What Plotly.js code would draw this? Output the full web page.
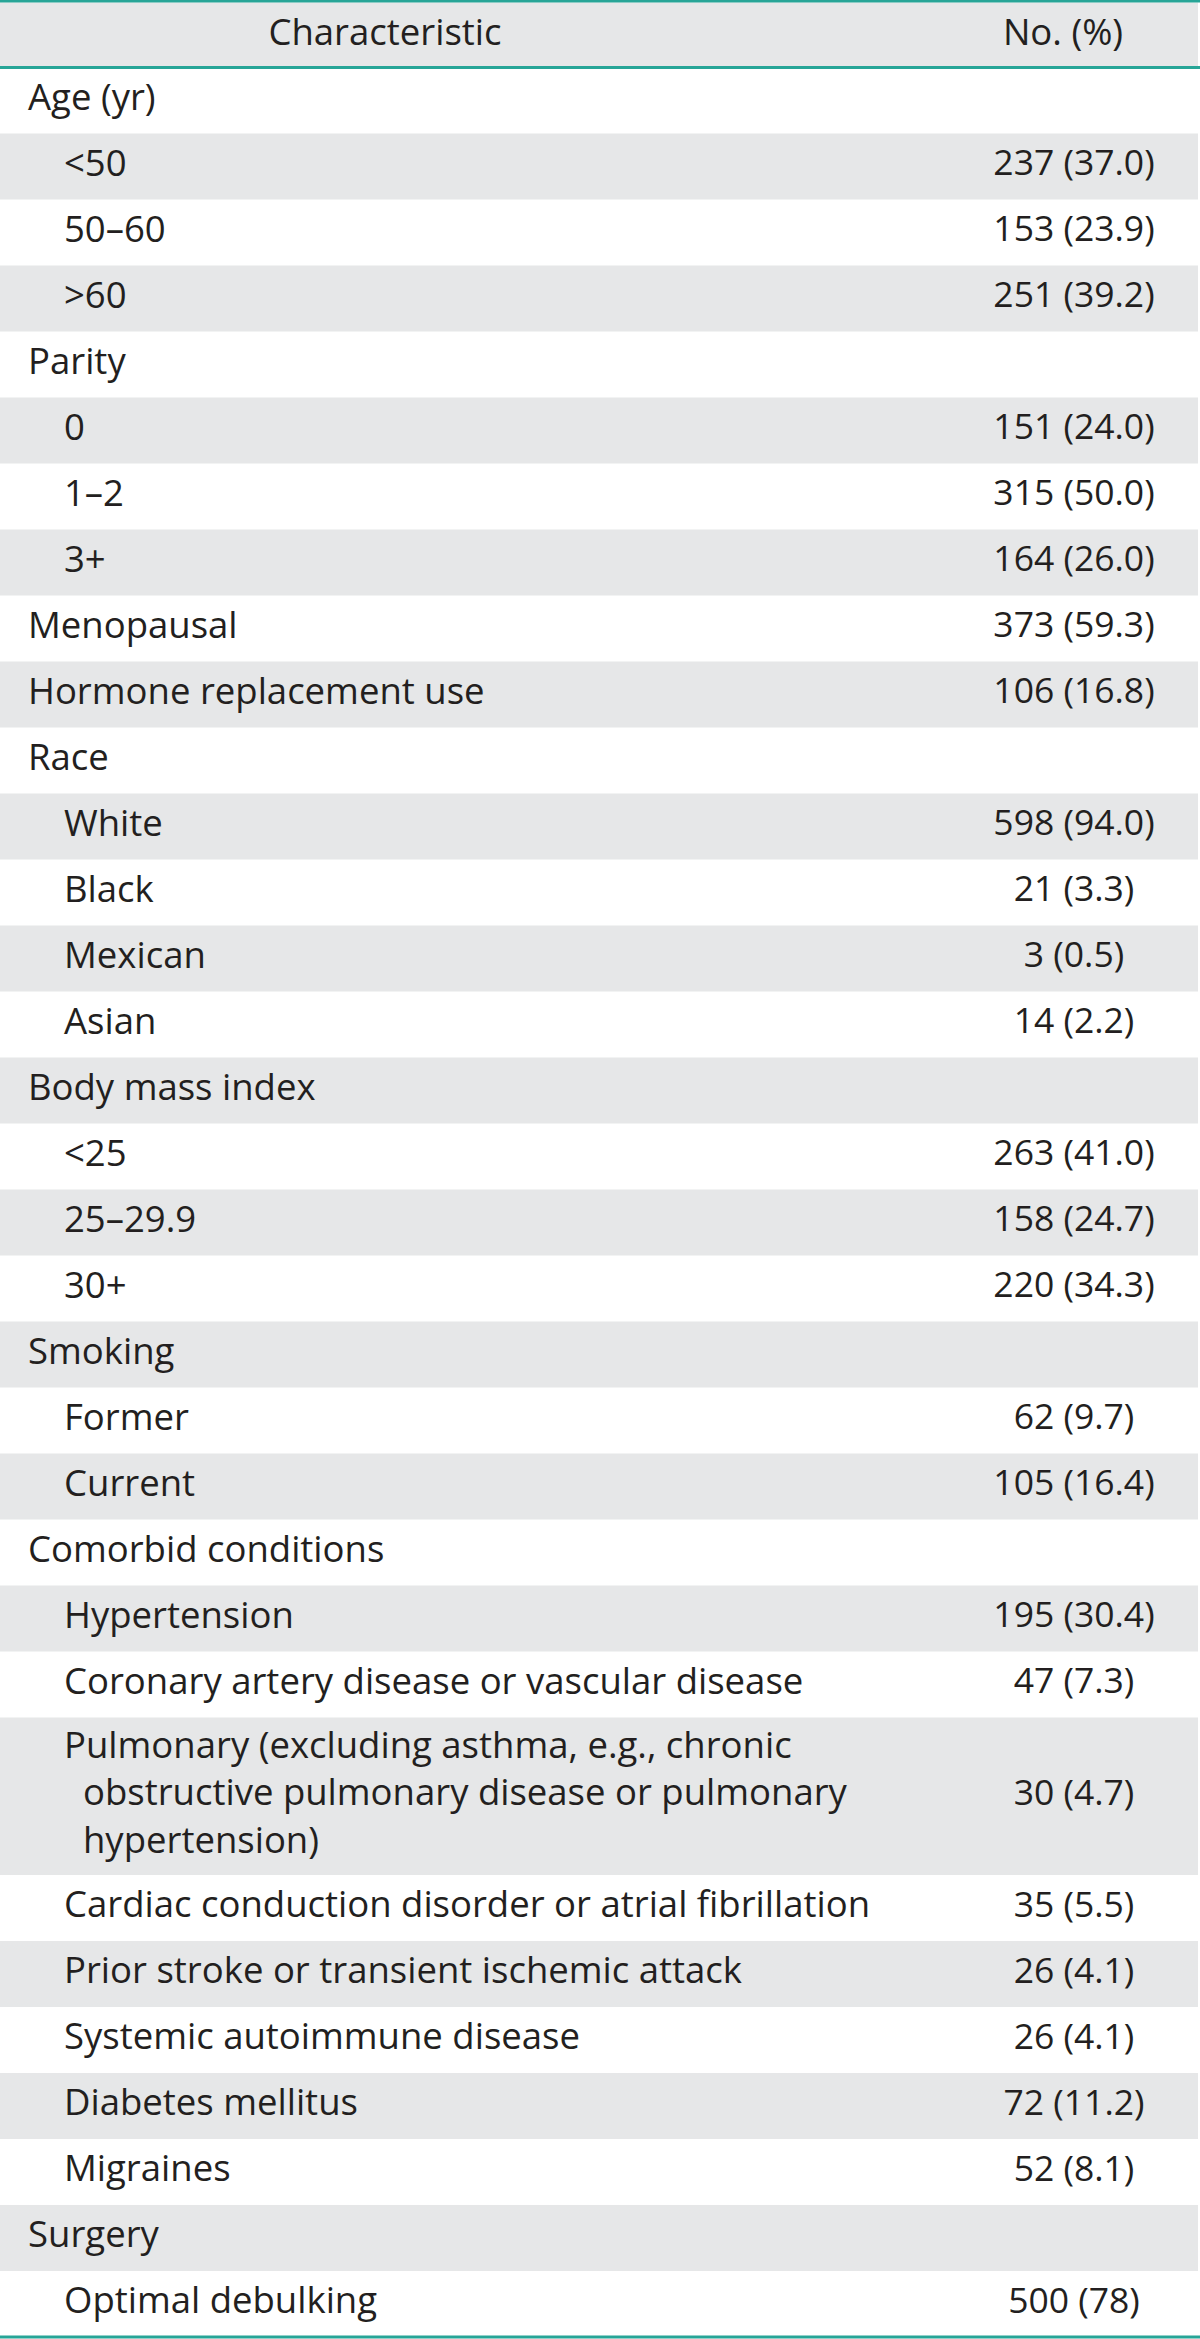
<!DOCTYPE html>
<html>
<head>
<meta charset="utf-8">
<script src="https://cdn.plot.ly/plotly-3.0.1.min.js"></script>
<style>
  html, body { margin: 0; padding: 0; background: #fff; }
  #gd { width: 1200px; height: 2339px; }
</style>
</head>
<body>
<div id="gd"></div>
<script>
// table content, one entry per row ("|" marks a wrapped line)
var headers = ['Characteristic', 'No. (%)'];

var labels = [
    'Age (yr)', '<50', '50–60', '>60',
    'Parity', '0', '1–2', '3+',
    'Menopausal', 'Hormone replacement use',
    'Race', 'White', 'Black', 'Mexican', 'Asian',
    'Body mass index', '<25', '25–29.9', '30+',
    'Smoking', 'Former', 'Current',
    'Comorbid conditions', 'Hypertension',
    'Coronary artery disease or vascular disease',
    'Pulmonary (excluding asthma, e.g., chronic|obstructive pulmonary disease or pulmonary|hypertension)',
    'Cardiac conduction disorder or atrial fibrillation',
    'Prior stroke or transient ischemic attack',
    'Systemic autoimmune disease', 'Diabetes mellitus', 'Migraines',
    'Surgery', 'Optimal debulking'
];

// 0 = group heading, 1 = indented item
var levels = [0, 1, 1, 1, 0, 1, 1, 1, 0, 0, 0, 1, 1, 1, 1, 0, 1, 1, 1, 0, 1, 1, 0, 1, 1, 1, 1, 1, 1, 1, 1, 0, 1];

var values = [
    '', '237 (37.0)', '153 (23.9)', '251 (39.2)',
    '', '151 (24.0)', '315 (50.0)', '164 (26.0)',
    '373 (59.3)', '106 (16.8)',
    '', '598 (94.0)', '21 (3.3)', '3 (0.5)', '14 (2.2)',
    '', '263 (41.0)', '158 (24.7)', '220 (34.3)',
    '', '62 (9.7)', '105 (16.4)',
    '', '195 (30.4)', '47 (7.3)',
    '30 (4.7)', '35 (5.5)', '26 (4.1)', '26 (4.1)', '72 (11.2)', '52 (8.1)',
    '', '500 (78)'
];

var W = 1200, H = 2339;
var teal = '#27a597', gray = '#e6e7e8', ink = '#231f20';
var family = '"Open Sans", sans-serif';
var labelFont = {family: family, size: 36.5, color: ink};
var valueFont = {family: family, size: 35.5, color: ink};

var headTop = 2.6, headBottom = 67.5;
var rowH = 66, lineStep = 45.75;
var indent = [28, 64];

// row geometry from the number of lines in each label
var rowCenter = [], rowHeight = [];
var yPos = headBottom;
labels.forEach(function (lab) {
    var n = lab.split('|').length;
    var h = rowH + (n - 1) * lineStep;
    rowCenter.push(yPos + h / 2);
    rowHeight.push(h);
    yPos += h;
});

// shaded rows: header plus every second body row
var bandY = [(headTop + headBottom) / 2], bandW = [headBottom - headTop];
rowCenter.forEach(function (c, i) {
    if (i % 2 === 1) { bandY.push(c); bandW.push(rowHeight[i]); }
});

var bands = {
    type: 'bar', orientation: 'h',
    y: bandY, width: bandW,
    x: bandY.map(function () { return 1198; }), base: 0,
    marker: {color: gray, line: {width: 0}},
    hoverinfo: 'skip'
};

// wrapped lines get a hanging indent
var labelText = {
    type: 'scatter', mode: 'text',
    x: levels.map(function (l) { return indent[l]; }),
    y: rowCenter,
    text: labels.map(function (lab) {
        return lab.replace(/</g, '&lt;').replace(/>/g, '&gt;')
                  .split('|').join('<br>\u00a0\u00a0');
    }),
    textposition: 'middle right', textfont: labelFont,
    hoverinfo: 'skip'
};

var valueText = {
    type: 'scatter', mode: 'text',
    x: values.map(function () { return 1074; }), y: rowCenter, text: values,
    textposition: 'middle center', textfont: valueFont,
    hoverinfo: 'skip'
};

var headerText = {
    type: 'scatter', mode: 'text',
    x: [385, 1063], y: [36, 36], text: headers,
    textposition: 'middle center', textfont: labelFont,
    hoverinfo: 'skip'
};

function rule(y, w) {
    return {type: 'line', xref: 'x', yref: 'y', x0: 0, x1: W, y0: y, y1: y,
            line: {color: teal, width: w}, layer: 'above'};
}

var layout = {
    width: W, height: H,
    margin: {l: 0, r: 0, t: 0, b: 0, pad: 0},
    paper_bgcolor: '#fff', plot_bgcolor: '#fff',
    showlegend: false,
    xaxis: {range: [0, W], visible: false, fixedrange: true},
    yaxis: {range: [H, 0], visible: false, fixedrange: true},
    shapes: [rule(1.3, 2.6), rule(headBottom, 3), rule(yPos, 3)]
};

Plotly.newPlot('gd', [bands, labelText, valueText, headerText], layout, {staticPlot: true, displayModeBar: false});
</script>
</body>
</html>
